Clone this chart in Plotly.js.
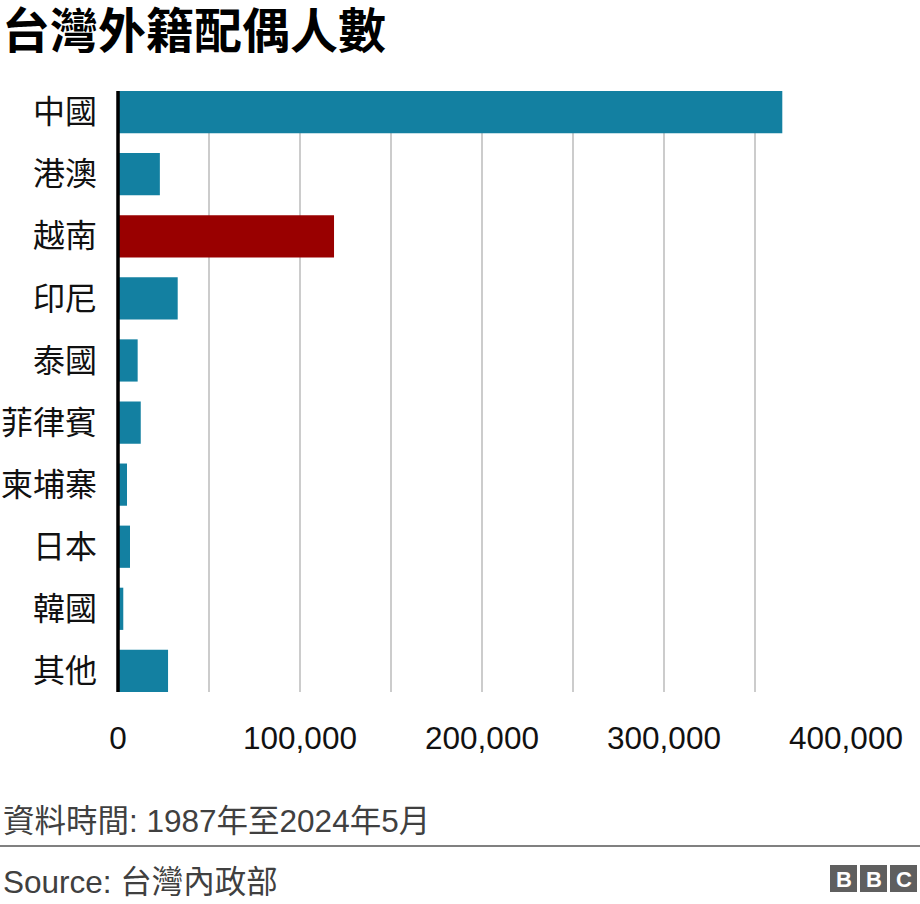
<!DOCTYPE html>
<html>
<head>
<meta charset="utf-8">
<script src="https://cdn.plot.ly/plotly-3.0.1.min.js"></script>
<style>
  html, body { margin: 0; padding: 0; background: #ffffff; }
  #chart { width: 920px; height: 904px; }
</style>
</head>
<body>
<div id="chart"></div>
<script>
// Data
const categories = ["中國", "港澳", "越南", "印尼", "泰國", "菲律賓", "柬埔寨", "日本", "韓國", "其他"];
const spouses = [365000, 23000, 118700, 32800, 10800, 12500, 4950, 6600, 2900, 27500];
const highlight = "越南";
const tickValues = [0, 50000, 100000, 150000, 200000, 250000, 300000, 350000, 400000];
const tickLabels = ["0", "", "100,000", "", "200,000", "", "300,000", "", "400,000"];
const titleText = "台灣外籍配偶人數";
const noteText = "資料時間: 1987年至2024年5月";
const sourceText = "Source: 台灣內政部";

const TEAL = "#1380A1";
const RED = "#990000";
const FONT = "Liberation Sans, Arial, 'Noto Sans CJK TC', sans-serif";
const CJK = "'Noto Sans CJK TC', 'Liberation Sans', sans-serif";

const colors = categories.map(c => c === highlight ? RED : TEAL);

const trace = {
  type: "bar",
  orientation: "h",
  y: categories,
  x: spouses,
  marker: { color: colors, line: { width: 0 } },
  hoverinfo: "none"
};

// plot area: left 118, right 846, top 91, bottom 692
const L = 118, R = 846, T = 91, B = 692, W = 920, H = 904;
const px2x = p => (p - L) / (R - L);
const px2y = p => (B - p) / (B - T);

const logoSquares = [[830, 857], [860, 887], [890, 917]];
const logoLetters = ["B", "B", "C"];

const shapes = [
  // zero axis line (at the left edge of the plot, x = 0)
  { type: "line", xref: "paper", yref: "paper", x0: 0, x1: 0, y0: px2y(692), y1: px2y(91),
    line: { color: "#000000", width: 3.5 }, layer: "above" },
  // separator
  { type: "line", xref: "paper", yref: "paper", x0: px2x(0), x1: px2x(920), y0: px2y(846), y1: px2y(846),
    line: { color: "#808080", width: 2 } }
];
logoSquares.forEach(s => {
  shapes.push({ type: "rect", xref: "paper", yref: "paper",
    x0: px2x(s[0]), x1: px2x(s[1]), y0: px2y(892), y1: px2y(865),
    fillcolor: "#5f5f5f", line: { width: 0 } });
});

const annotations = [
  { xref: "paper", yref: "paper", x: px2x(1), y: px2y(821), xanchor: "left", yanchor: "middle",
    text: noteText, showarrow: false, font: { family: FONT, size: 31.5, color: "#404040" } },
  { xref: "paper", yref: "paper", x: px2x(1), y: px2y(882), xanchor: "left", yanchor: "middle",
    text: sourceText, showarrow: false, font: { family: FONT, size: 31.5, color: "#404040" } }
];
logoSquares.forEach((s, i) => {
  annotations.push({ xref: "paper", yref: "paper", x: px2x((s[0] + s[1]) / 2), y: px2y(879),
    xanchor: "center", yanchor: "middle", text: "<b>" + logoLetters[i] + "</b>", showarrow: false,
    font: { family: "Liberation Sans, Arial, sans-serif", size: 22, color: "#ffffff" } });
});

const layout = {
  width: W, height: H,
  paper_bgcolor: "#ffffff", plot_bgcolor: "#ffffff",
  margin: { l: L, r: W - R, t: T, b: H - B, pad: 0 },
  showlegend: false,
  bargap: 0.32,
  title: {
    text: "<b>" + titleText + "</b>",
    xref: "container", yref: "container",
    x: 2 / W, xanchor: "left",
    y: 1 - 31 / H, yanchor: "middle",
    font: { family: CJK, size: 48, color: "#000000" }
  },
  xaxis: {
    range: [0, 400000],
    tickmode: "array",
    tickvals: tickValues,
    ticktext: tickLabels,
    showgrid: true,
    gridcolor: "#cccccc",
    gridwidth: 2,
    zeroline: false,
    showline: false,
    ticks: "",
    ticklabelstandoff: 24,
    tickfont: { family: FONT, size: 31.5, color: "#111111" },
    fixedrange: true
  },
  yaxis: {
    type: "category",
    range: [9.34, -0.34],
    autorange: false,
    showgrid: false,
    zeroline: false,
    showline: false,
    ticks: "",
    ticklabelstandoff: 20,
    tickfont: { family: CJK, size: 32, color: "#111111" },
    fixedrange: true
  },
  shapes: shapes,
  annotations: annotations
};

Plotly.newPlot("chart", [trace], layout, { displayModeBar: false, staticPlot: true });
</script>
</body>
</html>
